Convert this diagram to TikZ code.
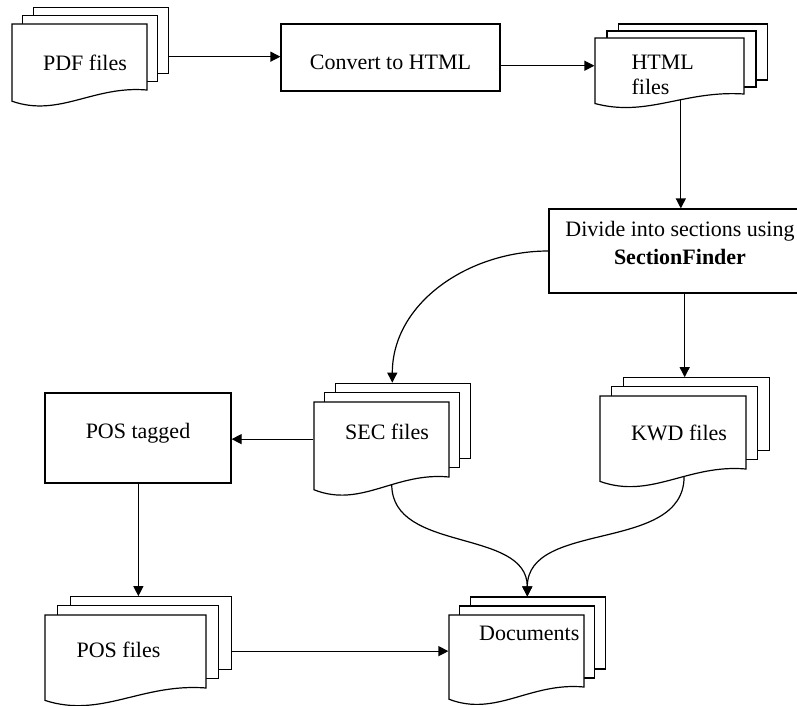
\documentclass[tikz,border=0pt]{standalone}
\usepackage{fontspec}
\setmainfont{Liberation Serif}
\usepackage{tikz}
\usetikzlibrary{arrows.meta,fit}

\tikzset{box/.style={draw,fill=white},
	lbl/.style={inner sep=0pt}}

% three pages stacked, the front one with a wavy lower edge
\newcommand{\docstack}[7][]{%
	\pgfmathsetmacro{\stkdx}{0.08*#5}%
	\pgfmathsetmacro{\stkdy}{0.125*#6}%
	\pgfmathsetmacro{\stkR}{#3+#5}%
	\pgfmathsetmacro{\stkB}{#4+#6}%
	\pgfmathsetmacro{\stkW}{#4+1.17*#6}%
	\foreach \k in {2,1}
	\draw[fill=white] ({#3+\k*\stkdx},{#4-\k*\stkdy}) rectangle ++(#5,#6);
	\draw[fill=white] (#3,#4) -- (\stkR,#4) -- (\stkR,\stkB)
		.. controls ({#3+0.6*#5},{\stkW-0.24*#6}) and ({#3+0.35*#5},{\stkW+0.25*#6}) .. (#3,\stkW)
		coordinate[pos=0.4] (#2-out) -- cycle;
	\node[fit={(#3,{#4-2*\stkdy}) ({\stkR+2*\stkdx},{\stkW+0.07*#6})},inner sep=0pt] (#2) {};
	\node[lbl,#1] (#2-text) at ({#3+0.5*#5},{#4+0.5*#6}) {#7};
}

\begin{document}
\begin{tikzpicture}[x=0.5pt,y=-0.5pt,line width=0.6pt,>={Triangle[length=5pt,width=5pt]},font=\fontsize{11}{12.5}\selectfont]
		\useasboundingbox (0,0) rectangle (797,706);
		\docstack[shift={(5.5,6)}]{pdf}{12}{24}{135}{66}{PDF files}
		\node[box,minimum width=109.5pt,minimum height=33.5pt,text height=11.7pt] (convert) at (390.5,57.5) {Convert to HTML};
		\docstack[anchor=west,align=left,shift={(-38.5,8.5)}]{html}{595}{38}{149}{56}{HTML\\files}
		\node[box,minimum width=131pt,minimum height=42pt,align=center,text depth=8pt] (divide) at (680,251) {Divide into sections using\\[1.5pt]\textbf{SectionFinder}};
		\docstack[shift={(5.5,-7.5)}]{sec}{314}{402}{135}{75}{SEC files}
		\docstack[shift={(6,0)}]{kwd}{600}{396}{146}{73}{KWD files}
		\node[box,minimum width=93pt,minimum height=45pt,text depth=7pt] (postag) at (138,438) {POS tagged};
		\docstack[shift={(-7,-1.5)}]{posf}{45}{615}{161}{73}{POS files}
		\docstack[anchor=east,shift={(63.5,-18)}]{docs}{449}{615}{135}{72}{Documents}
		
		%\draw[help lines] (0,0) grid[step=50] (797,706);
		\draw[->] (pdf.east) -- (pdf.east -| convert.west);
		\draw[->] (convert.east |- html.west) -- (html.west);
		\draw[->] (html-out) -- (html-out |- divide.north);
		\draw[->] (divide.west) to[out=180,in=90] (sec.north);
		\draw[->] (divide.south -| kwd.north) -- (kwd.north);
		\draw[->] (sec.west) -- (sec.west -| postag.east);
		\draw[->] (postag.south -| posf.north) -- (posf.north);
		\draw[->] (posf.east) -- (posf.east -| docs.west);
		\draw[->] (sec-out) to[out=-90,in=90] (docs.north);
		\draw[->] (kwd-out) to[out=-90,in=90] (docs.north);
		
\end{tikzpicture}
\end{document}
